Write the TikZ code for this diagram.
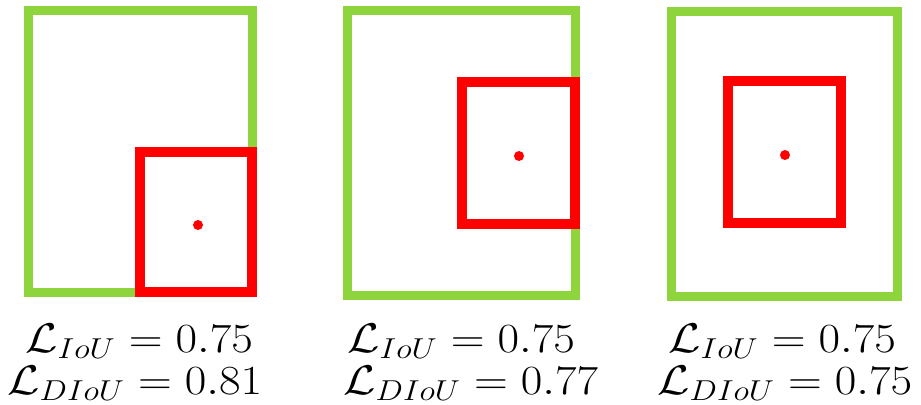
\documentclass[tikz,border=0pt]{standalone}
\definecolor{boxgreen}{RGB}{141,212,61}
\definecolor{boxred}{RGB}{255,0,0}
\newcommand{\wlab}[1]{\scalebox{1.13}[1]{#1}}
\begin{document}
\begin{tikzpicture}[x=0.5pt,y=-0.5pt,
  gt/.style={draw=boxgreen,line width=4.6pt},
  pr/.style={draw=boxred,line width=5.2pt},
  ctr/.style={fill=boxred,draw=none},
  lbl/.style={anchor=base west,inner sep=0pt,font=\fontsize{21}{21}\selectfont}]
\useasboundingbox (0,0) rectangle (921,404);
% panel 1
\draw[gt] (28.5,10.5) rectangle (252.5,292.5);
\draw[pr] (140,152) rectangle (252,292);
\fill[ctr] (198,225) circle (2.5pt);
% panel 2
\draw[gt] (347.5,10.5) rectangle (575.5,295.5);
\draw[pr] (462,82) rectangle (575,224);
\fill[ctr] (519,156) circle (2.5pt);
% panel 3
\draw[gt] (671.5,11.5) rectangle (897.5,296.5);
\draw[pr] (728,81) rectangle (841,223);
\fill[ctr] (785,155) circle (2.5pt);
% labels
\node[lbl] (a1) at (25,352) {\wlab{$\mathcal{L}_{IoU} = 0.75$}};
\node[lbl] (a2) at (7,394) {\wlab{$\mathcal{L}_{DIoU} = 0.81$}};
\node[lbl] (b1) at (347,352) {\wlab{$\mathcal{L}_{IoU} = 0.75$}};
\node[lbl] (b2) at (343,394) {\wlab{$\mathcal{L}_{DIoU} = 0.77$}};
\node[lbl] (c1) at (668,352) {\wlab{$\mathcal{L}_{IoU} = 0.75$}};
\node[lbl] (c2) at (657,394) {\wlab{$\mathcal{L}_{DIoU} = 0.75$}};
\end{tikzpicture}
\end{document}
